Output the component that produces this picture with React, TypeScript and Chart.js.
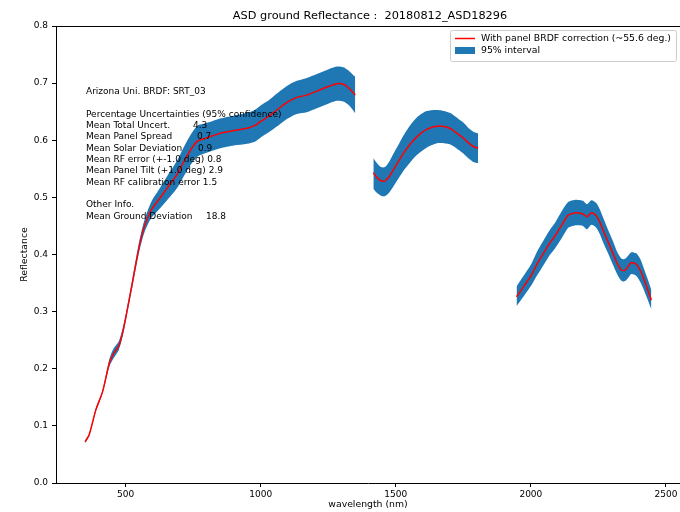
import React, { useEffect, useRef } from "react";
import { Chart, registerables } from "chart.js";

Chart.register(...registerables);

// ---- Data ----
const wl1 = [350, 365, 390, 415, 440, 455, 475, 490, 505, 525, 550, 570, 595, 620, 655, 690, 730, 765, 800, 850, 900, 950, 980, 1000, 1030, 1060, 1100, 1134, 1170, 1208, 1250, 1282, 1306, 1325, 1343, 1350];
const mean1 = [0.072, 0.084, 0.128, 0.160, 0.210, 0.226, 0.240, 0.265, 0.300, 0.350, 0.413, 0.450, 0.478, 0.494, 0.517, 0.540, 0.575, 0.598, 0.604, 0.612, 0.617, 0.621, 0.626, 0.633, 0.642, 0.653, 0.667, 0.675, 0.679, 0.686, 0.694, 0.699, 0.698, 0.692, 0.683, 0.679];
const upper1 = [0.074, 0.086, 0.131, 0.163, 0.217, 0.235, 0.248, 0.272, 0.306, 0.357, 0.422, 0.461, 0.492, 0.511, 0.538, 0.564, 0.601, 0.625, 0.630, 0.638, 0.643, 0.648, 0.654, 0.661, 0.670, 0.682, 0.696, 0.704, 0.709, 0.716, 0.724, 0.729, 0.728, 0.722, 0.714, 0.711];
const lower1 = [0.070, 0.082, 0.125, 0.157, 0.204, 0.218, 0.233, 0.258, 0.294, 0.343, 0.404, 0.439, 0.464, 0.477, 0.496, 0.516, 0.549, 0.571, 0.578, 0.586, 0.591, 0.594, 0.598, 0.605, 0.614, 0.624, 0.638, 0.646, 0.649, 0.656, 0.664, 0.669, 0.668, 0.662, 0.652, 0.647];

const wl2 = [1417, 1430, 1445, 1460, 1475, 1491, 1510, 1528, 1553, 1578, 1614, 1657, 1700, 1730, 1750, 1770, 1787, 1805];
const mean2 = [0.543, 0.535, 0.529, 0.529, 0.536, 0.548, 0.563, 0.577, 0.593, 0.606, 0.619, 0.625, 0.621, 0.611, 0.604, 0.595, 0.589, 0.586];
const upper2 = [0.569, 0.560, 0.553, 0.553, 0.562, 0.576, 0.592, 0.608, 0.626, 0.640, 0.651, 0.653, 0.648, 0.638, 0.631, 0.621, 0.615, 0.612];
const lower2 = [0.515, 0.508, 0.503, 0.502, 0.508, 0.519, 0.533, 0.546, 0.561, 0.574, 0.587, 0.595, 0.593, 0.584, 0.577, 0.568, 0.562, 0.560];

const wl3 = [1947, 1975, 2002, 2021, 2045, 2070, 2090, 2107, 2125, 2138, 2155, 2169, 2193, 2208, 2224, 2242, 2255, 2267, 2285, 2304, 2320, 2335, 2347, 2360, 2372, 2390, 2405, 2415, 2430, 2446];
const mean3 = [0.326, 0.345, 0.364, 0.382, 0.401, 0.420, 0.433, 0.446, 0.460, 0.469, 0.472, 0.473, 0.471, 0.466, 0.473, 0.468, 0.457, 0.443, 0.423, 0.402, 0.384, 0.373, 0.372, 0.379, 0.386, 0.383, 0.372, 0.361, 0.342, 0.320];
const upper3 = [0.344, 0.364, 0.384, 0.403, 0.423, 0.443, 0.456, 0.470, 0.484, 0.492, 0.495, 0.496, 0.494, 0.488, 0.495, 0.490, 0.479, 0.465, 0.444, 0.423, 0.404, 0.393, 0.392, 0.398, 0.404, 0.402, 0.392, 0.380, 0.360, 0.338];
const lower3 = [0.310, 0.328, 0.346, 0.362, 0.380, 0.399, 0.411, 0.423, 0.437, 0.447, 0.450, 0.451, 0.450, 0.444, 0.452, 0.447, 0.436, 0.422, 0.403, 0.382, 0.365, 0.354, 0.353, 0.359, 0.366, 0.363, 0.352, 0.342, 0.324, 0.304];

const xTicks = [500, 1000, 1500, 2000, 2500];
const yTicks = [0, 0.1, 0.2, 0.3, 0.4, 0.5, 0.6, 0.7, 0.8];

const titleText = "ASD ground Reflectance :  20180812_ASD18296";
const xTitle = "wavelength (nm)";
const yTitle = "Reflectance";
const legendLine = "With panel BRDF correction (~55.6 deg.)";
const legendBand = "95% interval";

const infoLabels = [
  "Arizona Uni. BRDF: SRT_03",
  "",
  "Percentage Uncertainties (95% confidence)",
  "Mean Total Uncert.",
  "Mean Panel Spread",
  "Mean Solar Deviation",
  "Mean RF error (+-1.0 deg) 0.8",
  "Mean Panel Tilt (+1.0 deg) 2.9",
  "Mean RF calibration error 1.5",
  "",
  "Other Info.",
  "Mean Ground Deviation",
];
const infoValues = ["", "", "", "4.3", "0.7", "0.9", "", "", "", "", "", "18.8"];
const infoValueOffsets = [0, 0, 0, 107, 111, 112, 0, 0, 0, 0, 0, 120];

const FONT = "'DejaVu Sans', 'Liberation Sans', sans-serif";
const BLUE = "#1f77b4";
const FS = 9;
const FS_LEG = 9.3;

const pts = (xs: number[], ys: number[]) => xs.map((x, i) => ({ x, y: ys[i] }));

const decorPlugin = {
  id: "decor",
  afterDatasetsDraw(chart: any) {
    const { ctx, chartArea: a } = chart;
    ctx.save();
    // top spine
    ctx.strokeStyle = "#000";
    ctx.lineWidth = 1;
    ctx.beginPath();
    ctx.moveTo(a.left, a.top + 0.5);
    ctx.lineTo(a.right, a.top + 0.5);
    ctx.stroke();

    ctx.fillStyle = "#000";
    ctx.textBaseline = "middle";

    // info text block
    ctx.font = `${FS}px ${FONT}`;
    ctx.textAlign = "left";
    const tx = a.left + 30;
    const ty0 = 91.5;
    const lh = 11.35;
    infoLabels.forEach((s, i) => {
      const y = ty0 + i * lh;
      if (s) ctx.fillText(s, tx, y);
      if (infoValues[i]) ctx.fillText(infoValues[i], tx + infoValueOffsets[i], y);
    });

    // title
    ctx.font = `11.3px ${FONT}`;
    ctx.textAlign = "center";
    ctx.fillText(titleText, 370, 16);

    // axis titles
    ctx.font = `${FS_LEG}px ${FONT}`;
    ctx.textAlign = "center";
    ctx.fillText(xTitle, 368, 505);
    ctx.save();
    ctx.translate(25, (a.top + a.bottom) / 2);
    ctx.rotate(-Math.PI / 2);
    ctx.fillText(yTitle, 0, 0);
    ctx.restore();

    // legend
    const lx = 450.5, ly = 30.5, lw = 226, lhgt = 31;
    ctx.beginPath();
    if (ctx.roundRect) ctx.roundRect(lx, ly, lw, lhgt, 2);
    else ctx.rect(lx, ly, lw, lhgt);
    ctx.fillStyle = "rgba(255,255,255,0.8)";
    ctx.fill();
    ctx.strokeStyle = "#cccccc";
    ctx.lineWidth = 1;
    ctx.stroke();

    ctx.strokeStyle = "red";
    ctx.lineWidth = 1.5;
    ctx.beginPath();
    ctx.moveTo(455, 38.5);
    ctx.lineTo(475, 38.5);
    ctx.stroke();
    ctx.fillStyle = BLUE;
    ctx.fillRect(455, 47, 20, 7);

    ctx.fillStyle = "#000";
    ctx.textAlign = "left";
    ctx.font = `${FS_LEG}px ${FONT}`;
    ctx.fillText(legendLine, 481, 38.5);
    ctx.fillText(legendBand, 481, 51);
    ctx.restore();
  },
};

export default function App() {
  const ref = useRef<HTMLCanvasElement | null>(null);

  useEffect(() => {
    if (!ref.current) return;
    const lineDs = (xs: number[], ys: number[]) => ({
      data: pts(xs, ys),
      borderColor: "red",
      borderWidth: 1.5,
      pointRadius: 0,
      tension: 0.25,
      fill: false,
      order: 0,
    });
    const lowDs = (xs: number[], ys: number[]) => ({
      data: pts(xs, ys),
      borderWidth: 0,
      borderColor: "rgba(0,0,0,0)",
      pointRadius: 0,
      tension: 0.25,
      fill: false,
      order: 1,
    });
    const upDs = (xs: number[], ys: number[]) => ({
      data: pts(xs, ys),
      borderWidth: 0,
      borderColor: "rgba(0,0,0,0)",
      backgroundColor: BLUE,
      pointRadius: 0,
      tension: 0.25,
      fill: "-1",
      order: 1,
    });

    const chart = new Chart(ref.current, {
      type: "line",
      data: {
        datasets: [
          lowDs(wl1, lower1),
          upDs(wl1, upper1),
          lowDs(wl2, lower2),
          upDs(wl2, upper2),
          lowDs(wl3, lower3),
          upDs(wl3, upper3),
          lineDs(wl1, mean1),
          lineDs(wl2, mean2),
          lineDs(wl3, mean3),
        ] as any,
      },
      options: {
        responsive: false,
        animation: false,
        layout: { padding: { top: 26, right: 0, left: 0, bottom: 0 } },
        plugins: {
          legend: { display: false },
          title: { display: false },
          tooltip: { enabled: false },
        },
        scales: {
          x: {
            type: "linear",
            min: 242.5,
            max: 2552,
            afterBuildTicks: (s: any) => {
              s.ticks = xTicks.map((v) => ({ value: v }));
            },
            afterFit: (s: any) => {
              s.height = 29;
            },
            ticks: {
              autoSkip: false,
              maxRotation: 0,
              padding: 2,
              color: "#000",
              font: { family: FONT, size: FS },
              callback: (v: any) => String(v),
            },
            grid: {
              display: true,
              drawOnChartArea: false,
              drawTicks: true,
              tickLength: 4,
              color: "#000",
            },
            border: { display: true, color: "#000", width: 1 },
          },
          y: {
            type: "linear",
            min: 0,
            max: 0.8,
            afterBuildTicks: (s: any) => {
              s.ticks = yTicks.map((v) => ({ value: v }));
            },
            afterFit: (s: any) => {
              s.width = 56;
            },
            ticks: {
              padding: 4,
              color: "#000",
              font: { family: FONT, size: FS },
              callback: (v: any) => Number(v).toFixed(1),
            },
            grid: {
              display: true,
              drawOnChartArea: false,
              drawTicks: true,
              tickLength: 4,
              color: "#000",
            },
            border: { display: true, color: "#000", width: 1 },
          },
        },
      } as any,
      plugins: [decorPlugin],
    });
    return () => chart.destroy();
  }, []);

  return (
    <div style={{ position: "fixed", left: 0, top: 0, width: 680, height: 512, background: "#fff" }}>
      <canvas ref={ref} width={680} height={512} style={{ display: "block" }} />
    </div>
  );
}
